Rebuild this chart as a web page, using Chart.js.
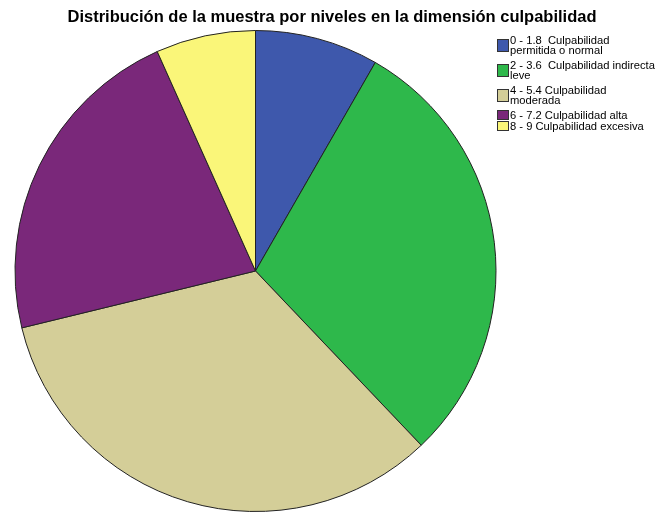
<!DOCTYPE html>
<html>
<head>
<meta charset="utf-8">
<script src="https://cdn.jsdelivr.net/npm/chart.js@4"></script>
<style>
  body { margin: 0; background: #fff; }
  #wrap { position: relative; width: 657px; height: 515px; overflow: hidden; }
  #title {
    position: absolute; left: 0; top: 7px; width: 664px; text-align: center;
    font: bold 16.5px "Liberation Sans", Arial, sans-serif; color: #000; white-space: nowrap;
  }
  #legend {
    position: absolute; left: 497px; top: 35px; width: 160px;
    font: 11.2px "Liberation Sans", Arial, sans-serif; color: #000;
  }
  .item { display: flex; align-items: center; margin-bottom: 1px; }
  .item.two { margin-bottom: 5px; }
  .sw { width: 12px; flex: none; border: 1px solid #333; margin-right: 1px; box-sizing: border-box; }
  .txt { line-height: 10px; white-space: pre; }
</style>
</head>
<body>
<div id="wrap">
  <canvas id="c" width="657" height="515"></canvas>
  <div id="title">Distribución de la muestra por niveles en la dimensión culpabilidad</div>
  <div id="legend"></div>
</div>
<script>
  // niveles (etiquetas de leyenda, con salto de linea donde lo hace el original)
  const labels = [
    ["0 - 1.8  Culpabilidad", "permitida o normal"],
    ["2 - 3.6  Culpabilidad indirecta", "leve"],
    ["4 - 5.4 Culpabilidad", "moderada"],
    ["6 - 7.2 Culpabilidad alta"],
    ["8 - 9 Culpabilidad excesiva"]
  ];
  // porcentaje de la muestra por nivel
  const values = [8.3, 29.6, 33.3, 22.1, 6.7];
  const colors = ["#3E58AC", "#2EB84B", "#D4CE98", "#7A287A", "#FAF679"];

  const leg = document.getElementById("legend");
  labels.forEach((l, i) => {
    const item = document.createElement("div");
    item.className = "item" + (l.length > 1 ? " two" : "");
    const sw = document.createElement("div");
    sw.className = "sw";
    sw.style.background = colors[i];
    sw.style.height = (l.length > 1 ? 13 : 10) + "px";
    const t = document.createElement("div");
    t.className = "txt";
    t.textContent = l.join("\n");
    item.appendChild(sw);
    item.appendChild(t);
    leg.appendChild(item);
  });

  new Chart(document.getElementById("c"), {
    type: "pie",
    data: {
      labels: labels.map((l) => l.join(" ")),
      datasets: [{
        data: values,
        backgroundColor: colors,
        borderColor: "#222",
        borderWidth: 1
      }]
    },
    options: {
      responsive: false,
      animation: false,
      layout: { padding: { left: 14, top: 30, right: 160, bottom: 3 } },
      plugins: {
        legend: { display: false },
        title: { display: false },
        tooltip: { enabled: false }
      }
    }
  });
</script>
</body>
</html>
